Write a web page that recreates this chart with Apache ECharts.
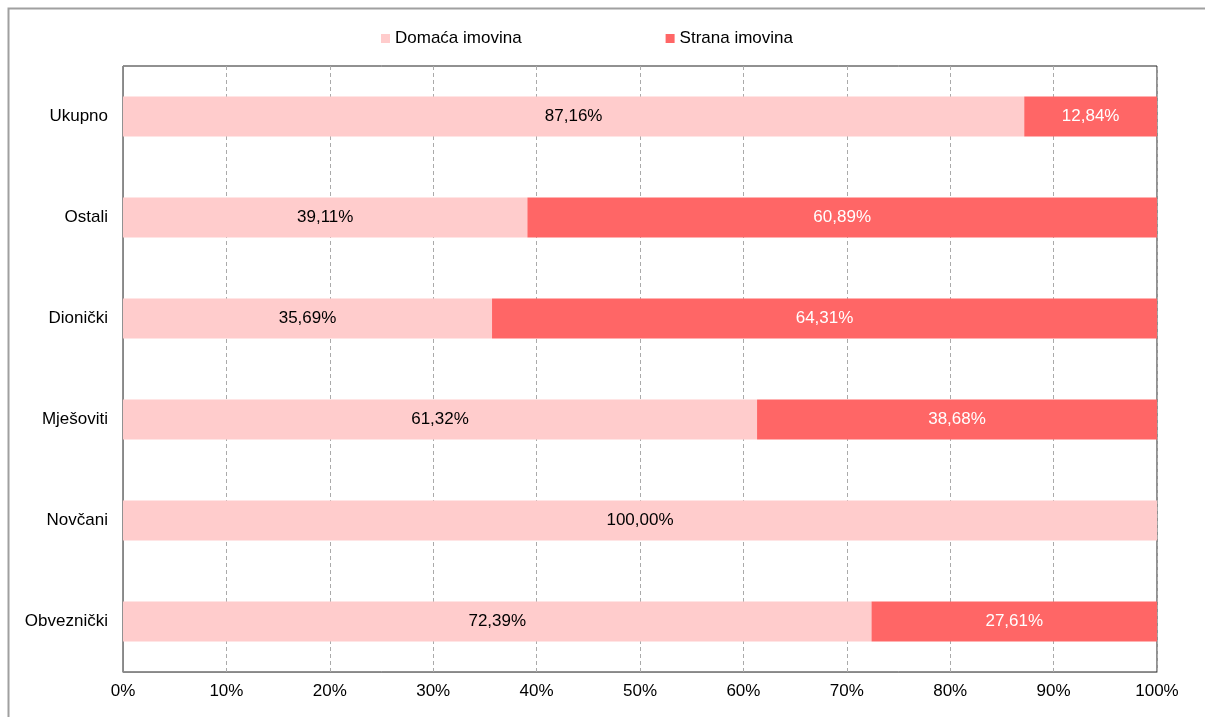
<!DOCTYPE html>
<html>
<head>
<meta charset="utf-8">
<script src="https://cdn.jsdelivr.net/npm/echarts@6/dist/echarts.min.js"></script>
<style>
  html, body { margin: 0; padding: 0; background: #fff; }
  #chart { width: 1205px; height: 717px; }
</style>
</head>
<body>
<div id="chart"></div>
<script>
// categories bottom -> top (category axis starts from the bottom)
var categories = ['Obveznički', 'Novčani', 'Mješoviti', 'Dionički', 'Ostali', 'Ukupno']
var domaca = [72.39, 100.00, 61.32, 35.69, 39.11, 87.16]
var strana = [27.61, null, 38.68, 64.31, 60.89, 12.84]
var xTicks = [0, 10, 20, 30, 40, 50, 60, 70, 80, 90, 100]

var chart = echarts.init(document.getElementById('chart'))

function fmt(p) {
  if (p.value == null) return ''
  return p.value.toFixed(2).replace('.', ',') + '%'
}

chart.setOption({
  animation: false,
  textStyle: { fontFamily: 'Liberation Sans, Arial, sans-serif' },
  graphic: [{
    type: 'rect',
    shape: { x: 8.5, y: 8.5, width: 1400, height: 900 },
    style: { fill: 'none', stroke: '#a0a0a0', lineWidth: 2 },
    silent: true
  }],
  legend: {
    top: 25,
    left: 376,
    itemGap: 144,
    itemWidth: 9,
    itemHeight: 9,
    icon: 'rect',
    textStyle: { fontSize: 17, color: '#000' },
    data: ['Domaća imovina', 'Strana imovina']
  },
  grid: {
    left: 123,
    right: 48,
    top: 66,
    bottom: 45,
    show: true,
    borderColor: '#222',
    borderWidth: 1
  },
  xAxis: {
    type: 'value',
    min: 0,
    max: 100,
    interval: 10,
    axisLine: { show: true, lineStyle: { color: '#888' } },
    axisTick: { show: false },
    axisLabel: {
      color: '#000',
      fontSize: 17,
      margin: 11,
      formatter: function (v) { return xTicks.indexOf(v) >= 0 ? v + '%' : '' }
    },
    splitLine: { show: true, lineStyle: { color: '#aaa', type: [4, 3] } }
  },
  yAxis: {
    type: 'category',
    data: categories,
    axisLine: { show: true, lineStyle: { color: '#888' } },
    axisTick: { show: false },
    axisLabel: { color: '#000', fontSize: 17, margin: 15 }
  },
  series: [
    {
      name: 'Domaća imovina',
      type: 'bar',
      stack: 'total',
      barWidth: 40,
      data: domaca,
      itemStyle: { color: '#ffcccc' },
      label: { show: true, position: 'inside', color: '#000', fontSize: 17, formatter: fmt }
    },
    {
      name: 'Strana imovina',
      type: 'bar',
      stack: 'total',
      barWidth: 40,
      data: strana,
      itemStyle: { color: '#ff6666' },
      label: { show: true, position: 'inside', color: '#fff', fontSize: 17, formatter: fmt }
    }
  ]
})
</script>
</body>
</html>
